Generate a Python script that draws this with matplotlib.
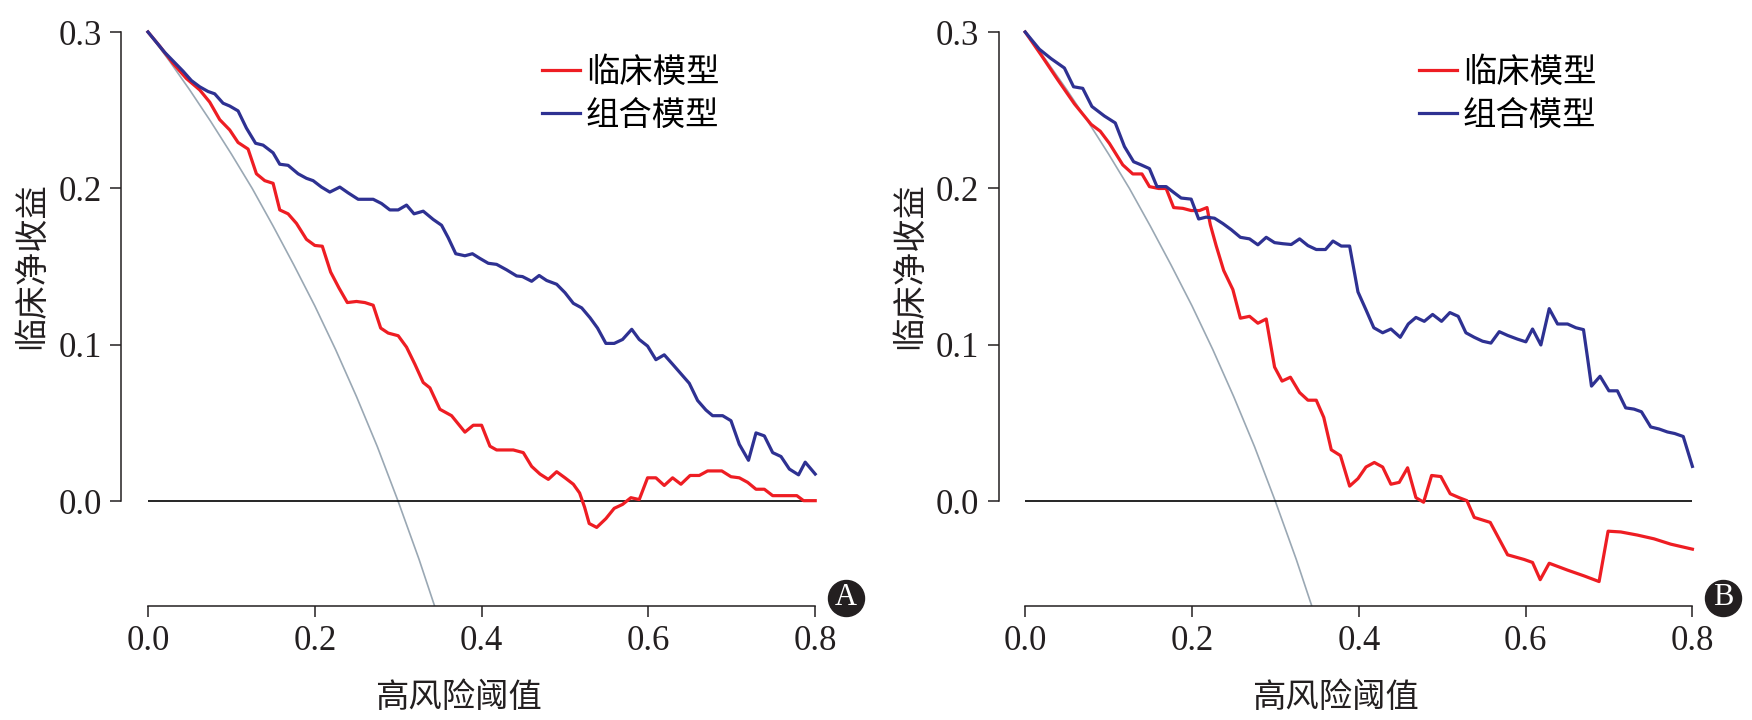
import matplotlib
matplotlib.use("Agg")
import matplotlib.pyplot as plt

plt.rcParams['font.family'] = ['Liberation Serif', 'Noto Sans CJK SC', 'DejaVu Sans']

# ---------------- data ----------------
x_ticks = [0.0, 0.2, 0.4, 0.6, 0.8]
y_ticks = [0.0, 0.1, 0.2, 0.3]
labels = ['临床模型', '组合模型']
x_title = '高风险阈值'
y_title = '临床净收益'
panel_tags = ['A', 'B']

# treat-all reference curve (same in both panels)
all_x = [0.0, 0.025, 0.05, 0.075, 0.10, 0.125, 0.15, 0.175, 0.20, 0.225, 0.25, 0.275, 0.30, 0.325, 0.35]
all_y = [0.300, 0.282, 0.263, 0.243, 0.222, 0.200, 0.176, 0.151, 0.125, 0.097, 0.067, 0.035, 0.000, -0.037, -0.077]

# Panel A
a_red_x = [0, 0.014, 0.03, 0.046, 0.062, 0.074, 0.086, 0.098, 0.108, 0.12, 0.13, 0.14, 0.15, 0.158,
           0.168, 0.178, 0.19, 0.2, 0.209, 0.219, 0.229, 0.239, 0.25, 0.26, 0.27, 0.279, 0.288, 0.30,
           0.31, 0.32, 0.33, 0.338, 0.35, 0.364, 0.38, 0.39, 0.40, 0.41, 0.418, 0.438, 0.45, 0.46,
           0.47, 0.48, 0.49, 0.50, 0.51, 0.5175, 0.5235, 0.529, 0.538, 0.549, 0.559, 0.569, 0.579,
           0.589, 0.599, 0.609, 0.619, 0.629, 0.639, 0.65, 0.661, 0.671, 0.688, 0.699, 0.709, 0.719,
           0.729, 0.739, 0.749, 0.778, 0.786, 0.8]
a_red_y = [0.300, 0.291, 0.280, 0.2703, 0.263, 0.2552, 0.244, 0.2374, 0.2294, 0.2252, 0.2094, 0.205,
           0.2033, 0.1863, 0.1838, 0.1777, 0.1675, 0.1636, 0.1631, 0.1466, 0.1364, 0.1271, 0.1278,
           0.1271, 0.1254, 0.1108, 0.1076, 0.1059, 0.0986, 0.0877, 0.076, 0.0726, 0.0589, 0.0548,
           0.0443, 0.0487, 0.0487, 0.0353, 0.0329, 0.0329, 0.0312, 0.0224, 0.0175, 0.0141, 0.019,
           0.0151, 0.011, 0.0054, -0.0037, -0.0141, -0.0166, -0.011, -0.0044, -0.0019, 0.0024,
           0.0012, 0.0151, 0.0151, 0.0102, 0.0151, 0.011, 0.0166, 0.0166, 0.0195, 0.0195, 0.0158,
           0.0151, 0.0122, 0.0078, 0.0078, 0.0037, 0.0037, 0.0005, 0.0005]
a_blue_x = [0, 0.02, 0.042, 0.052, 0.062, 0.072, 0.08, 0.09, 0.098, 0.108, 0.118, 0.129, 0.138, 0.15,
            0.158, 0.168, 0.18, 0.19, 0.198, 0.208, 0.218, 0.23, 0.24, 0.252, 0.27, 0.28, 0.29, 0.30,
            0.31, 0.319, 0.33, 0.342, 0.352, 0.36, 0.369, 0.38, 0.389, 0.398, 0.408, 0.418, 0.43,
            0.442, 0.449, 0.46, 0.469, 0.478, 0.49, 0.50, 0.51, 0.52, 0.53, 0.539, 0.549, 0.559,
            0.569, 0.58, 0.589, 0.599, 0.609, 0.619, 0.629, 0.639, 0.649, 0.659, 0.669, 0.677,
            0.689, 0.699, 0.709, 0.72, 0.729, 0.739, 0.749, 0.759, 0.769, 0.78, 0.788, 0.8]
a_blue_y = [0.300, 0.287, 0.275, 0.269, 0.265, 0.262, 0.2605, 0.2545, 0.2527, 0.2496, 0.2386, 0.2289,
            0.2277, 0.2228, 0.2155, 0.2148, 0.2094, 0.2065, 0.205, 0.2009, 0.1977, 0.2009, 0.1972,
            0.1931, 0.1931, 0.1904, 0.1863, 0.1863, 0.1894, 0.1838, 0.1855, 0.1802, 0.1765, 0.1685,
            0.1583, 0.157, 0.1583, 0.1553, 0.1522, 0.1515, 0.148, 0.1441, 0.1437, 0.1407, 0.1444,
            0.1412, 0.1388, 0.1334, 0.1266, 0.1237, 0.1174, 0.1108, 0.101, 0.101, 0.1035, 0.110,
            0.1035, 0.0993, 0.0906, 0.0937, 0.0877, 0.0816, 0.0755, 0.0645, 0.0584, 0.0548, 0.0548,
            0.0516, 0.0365, 0.0263, 0.0438, 0.0419, 0.0312, 0.0287, 0.0207, 0.017, 0.0251, 0.0175]

# Panel B
b_red_x = [0, 0.019, 0.039, 0.059, 0.079, 0.09, 0.101, 0.117, 0.129, 0.14, 0.149, 0.16, 0.169, 0.178,
           0.189, 0.199, 0.209, 0.218, 0.222, 0.229, 0.238, 0.249, 0.258, 0.269, 0.279, 0.289, 0.299,
           0.308, 0.318, 0.329, 0.339, 0.349, 0.358, 0.367, 0.378, 0.389, 0.399, 0.4086, 0.4186,
           0.4286, 0.4385, 0.4485, 0.4585, 0.4685, 0.4777, 0.4873, 0.4984, 0.5096, 0.5204, 0.5296,
           0.5384, 0.5576, 0.5784, 0.5983, 0.6083, 0.6175, 0.6283, 0.6503, 0.6702, 0.6881, 0.6989,
           0.7141, 0.7341, 0.754, 0.774, 0.8]
b_red_y = [0.300, 0.2854, 0.2695, 0.2541, 0.241, 0.2366, 0.2288, 0.2151, 0.2093, 0.2093, 0.2012,
           0.200, 0.200, 0.1878, 0.1873, 0.1859, 0.1859, 0.1878, 0.1768, 0.1634, 0.1476, 0.1354,
           0.1171, 0.1183, 0.1139, 0.1166, 0.0859, 0.0769, 0.0794, 0.0696, 0.0647, 0.0647, 0.0537,
           0.033, 0.0293, 0.0098, 0.0146, 0.022, 0.0249, 0.022, 0.011, 0.0122, 0.0215, 0.0024,
           -0.0005, 0.0166, 0.0159, 0.0049, 0.0024, 0.0005, -0.0102, -0.0134, -0.0341, -0.0371,
           -0.039, -0.050, -0.0395, -0.0439, -0.0476, -0.0512, -0.019, -0.0195, -0.0215, -0.0239,
           -0.0273, -0.0305]
b_blue_x = [0, 0.017, 0.031, 0.047, 0.058, 0.069, 0.08, 0.095, 0.108, 0.119, 0.13, 0.139, 0.149, 0.158,
            0.169, 0.179, 0.187, 0.199, 0.208, 0.217, 0.227, 0.237, 0.247, 0.258, 0.269, 0.279, 0.289,
            0.299, 0.309, 0.319, 0.329, 0.339, 0.349, 0.36, 0.369, 0.379, 0.389, 0.399, 0.409, 0.418,
            0.4286, 0.4385, 0.4497, 0.4593, 0.4685, 0.4785, 0.4885, 0.4992, 0.5092, 0.5192, 0.5284,
            0.5384, 0.5484, 0.5584, 0.5684, 0.5784, 0.5904, 0.6003, 0.6083, 0.6183, 0.6283, 0.6383,
            0.6503, 0.6603, 0.6694, 0.674, 0.679, 0.6893, 0.6999, 0.71, 0.72, 0.73, 0.7389, 0.75,
            0.76, 0.77, 0.7788, 0.789, 0.8]
b_blue_y = [0.300, 0.289, 0.283, 0.277, 0.265, 0.264, 0.2524, 0.2463, 0.2419, 0.2268, 0.2171, 0.2151,
            0.2127, 0.2012, 0.2012, 0.1971, 0.1939, 0.1932, 0.1805, 0.1817, 0.181, 0.1776, 0.1737,
            0.1688, 0.1678, 0.164, 0.1688, 0.1654, 0.1647, 0.1642, 0.1678, 0.1635, 0.161, 0.161,
            0.1664, 0.1632, 0.1632, 0.1339, 0.122, 0.111, 0.1078, 0.1102, 0.1049, 0.1134, 0.1176,
            0.1151, 0.1195, 0.1151, 0.1207, 0.1183, 0.1078, 0.1049, 0.1024, 0.1012, 0.1085, 0.1061,
            0.1037, 0.102, 0.1102, 0.100, 0.1232, 0.1134, 0.1134, 0.111, 0.1098, 0.0927, 0.0737,
            0.080, 0.0707, 0.0707, 0.0598, 0.059, 0.0573, 0.0476, 0.0463, 0.0444, 0.0434, 0.0415,
            0.0224]

panels = [
    (a_red_x, a_red_y, a_blue_x, a_blue_y),
    (b_red_x, b_red_y, b_blue_x, b_blue_y),
]

# ---------------- style ----------------
RED = '#EE1D23'
BLUE = '#2E3192'
GRAY = '#9AA8B4'
CJK = ['Noto Sans CJK SC', 'DejaVu Sans']
SERIF = ['Liberation Serif', 'DejaVu Serif']

W, H = 1752, 720
fig = plt.figure(figsize=(W / 100, H / 100), dpi=100)

ax_lefts = [121.3, 998.5]
for i, (rx, ry, bx, by) in enumerate(panels):
    ax = fig.add_axes([ax_lefts[i] / W, 114.5 / H, 720.6 / W, 595.4 / H])
    ax.set_xlim(-0.032, 0.832)
    ax.set_ylim(-0.0665, 0.314)

    ax.plot(all_x, all_y, color=GRAY, lw=1.2, zorder=2)
    ax.hlines(0, x_ticks[0], x_ticks[-1], color='black', lw=1.2, zorder=2)
    l_red, = ax.plot(rx, ry, color=RED, lw=2.3, label=labels[0], zorder=3)
    l_blue, = ax.plot(bx, by, color=BLUE, lw=2.3, label=labels[1], zorder=4)

    for s in ['top', 'right']:
        ax.spines[s].set_visible(False)
    for s in ['left', 'bottom']:
        ax.spines[s].set_linewidth(1.1)
        ax.spines[s].set_color('#231F20')
    ax.spines['left'].set_bounds(y_ticks[0], y_ticks[-1])
    ax.spines['bottom'].set_bounds(x_ticks[0], x_ticks[-1])

    ax.set_xticks(x_ticks)
    ax.set_xticklabels([f'{v:.1f}' for v in x_ticks])
    ax.set_yticks(y_ticks)
    ax.set_yticklabels([f'{v:.1f}' for v in y_ticks])
    ax.tick_params(direction='out', length=7.9, width=1.1, pad=6.0, labelsize=25,
                   colors='#231F20')
    for t in ax.get_xticklabels() + ax.get_yticklabels():
        t.set_family(SERIF)

    ax.set_xlabel(x_title, fontsize=24, family=CJK, color='#231F20')
    ax.xaxis.set_label_coords(0.468, -0.154)
    ax.xaxis.label.set_va('center')
    ax.set_ylabel(y_title, fontsize=24, family=CJK, color='#231F20')
    ax.yaxis.set_label_coords(-0.124, 0.571)
    ax.yaxis.label.set_va('center')

    ax.legend(handles=[l_red, l_blue], loc='upper left', bbox_to_anchor=(0.5834, 0.925),
              frameon=False, prop={'family': CJK, 'size': 24}, handlelength=1.15,
              handletextpad=0.17, labelspacing=0.25, borderpad=0, borderaxespad=0)

    ax.scatter([1.0057], [0.0126], transform=ax.transAxes, s=672, c='#231F20',
               clip_on=False, zorder=5)
    ax.text(1.0057, 0.0126, panel_tags[i], transform=ax.transAxes, ha='center',
            va='center', color='white', fontsize=22, family=SERIF, clip_on=False, zorder=6)

fig.savefig('out.png', dpi=100)
